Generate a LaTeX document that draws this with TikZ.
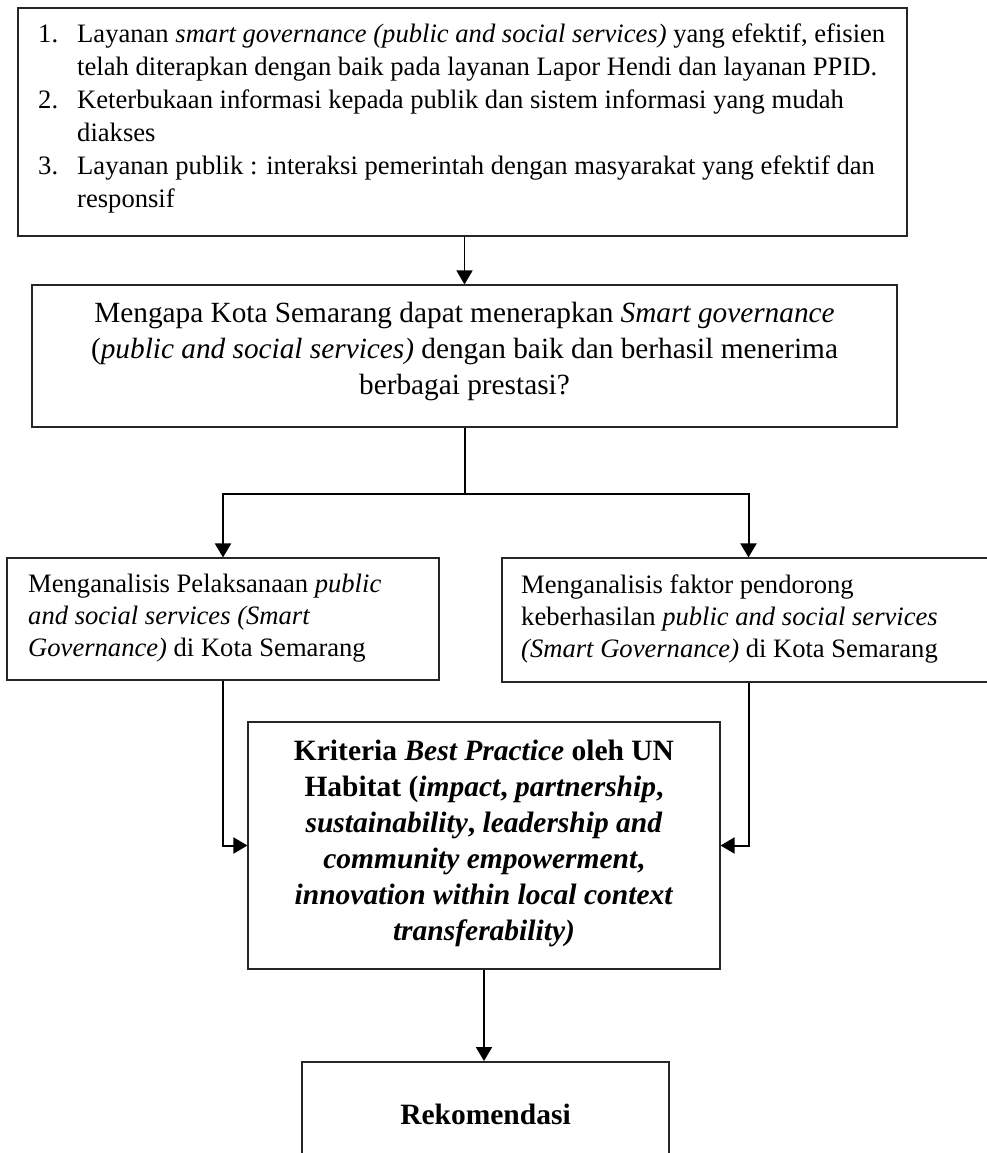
\documentclass[tikz,border=0pt]{standalone}
\usepackage{fontspec}
\setmainfont{Liberation Serif}
\usetikzlibrary{arrows.meta}
\tikzset{
  boxshape/.style={draw=black!85, line width=1.1pt, inner sep=0pt, rectangle},
  thickbox/.style={draw=black!85, line width=2pt, inner sep=0pt, rectangle},
  txt/.style={inner sep=0pt},
  smalltxt/.style={txt, font=\fontsize{26.6}{33}\selectfont},
  childtxt/.style={txt, font=\fontsize{26.6}{32}\selectfont},
  bigtxt/.style={txt, font=\fontsize{29.3}{36}\selectfont},
  boldtxt/.style={txt, font=\fontsize{29.5}{36}\selectfont\bfseries},
  conn/.style={draw=black, line width=2pt},
  arr/.style={conn, -{Triangle[width=16pt,length=14pt]}},
}
\begin{document}
\begin{tikzpicture}[x=1pt,y=-1pt]
\useasboundingbox (0,0) rectangle (987,1153);
% boxes
\node[boxshape, minimum width=889pt, minimum height=228pt] (top) at (462.5,122) {};
\node[boxshape, minimum width=865pt, minimum height=142pt] (q) at (464.5,356) {};
\node[boxshape, minimum width=432pt, minimum height=122pt] (lft) at (223,619) {};
\node[boxshape, minimum width=493pt, minimum height=124pt] (rgt) at (748.5,620) {};
\node[boxshape, minimum width=472pt, minimum height=247pt] (ctr) at (484,845.5) {};
\node[thickbox, minimum width=367pt, minimum height=98pt] (bot) at (485.5,1111) {};
% texts
\node[smalltxt, anchor=base west] (toptext) at (38,43) {\begin{tabular}[t]{@{}l@{}l@{}}
\makebox[39pt][l]{1.} & Layanan \textit{smart governance (public and social services)} yang efektif, efisien\\
 & telah diterapkan dengan baik pada layanan Lapor Hendi dan layanan PPID.\\
\makebox[39pt][l]{2.} & Keterbukaan informasi kepada publik dan sistem informasi yang mudah\\
 & diakses\\
\makebox[39pt][l]{3.} & Layanan publik : interaksi pemerintah dengan masyarakat yang efektif dan\\
 & responsif
\end{tabular}};
\node[bigtxt, anchor=base] (qtext) at (464.5,322) {\begin{tabular}[t]{@{}c@{}}
Mengapa Kota Semarang dapat menerapkan \textit{Smart governance}\\
(\textit{public and social services)} dengan baik dan berhasil menerima\\
berbagai prestasi?
\end{tabular}};
\node[childtxt, anchor=base west] (ltext) at (28,592) {\begin{tabular}[t]{@{}l@{}}
Menganalisis Pelaksanaan \textit{public}\\
\textit{and social services (Smart}\\
\textit{Governance)} di Kota Semarang
\end{tabular}};
\node[childtxt, anchor=base west] (rtext) at (521,593) {\begin{tabular}[t]{@{}l@{}}
Menganalisis faktor pendorong\\
keberhasilan \textit{public and social services}\\
\textit{(Smart Governance)} di Kota Semarang
\end{tabular}};
\node[boldtxt, anchor=base] (ctext) at (484,760) {\begin{tabular}[t]{@{}c@{}}
Kriteria \textit{Best Practice} oleh UN\\
Habitat (\textit{impact}, \textit{partnership},\\
\textit{sustainability}, \textit{leadership and}\\
\textit{community empowerment},\\
\textit{innovation within local context}\\
\textit{transferability)}
\end{tabular}};
\node[boldtxt, anchor=base] (btext) at (485.5,1124) {Rekomendasi};
% connectors
\draw[arr, line width=1.6pt] (q.north |- top.south) -- (q.north);
\draw[conn] (q.south) -- ++(0,66) coordinate (junc);
\draw[arr] (junc) -| (lft.north);
\draw[arr] (junc) -| (rgt.north);
\draw[arr] (lft.south) |- (ctr.west);
\draw[arr] (rgt.south) |- (ctr.east);
\draw[arr] (ctr.south) -- (ctr.south |- bot.north);
\end{tikzpicture}
\end{document}
